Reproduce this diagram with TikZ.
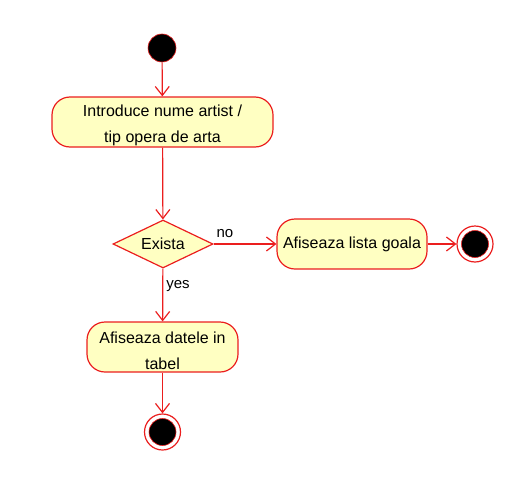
\documentclass[tikz,border=0pt]{standalone}
\usepackage{fontspec}
\setmainfont{Liberation Sans}
\usetikzlibrary{arrows.meta,shapes.geometric}
\definecolor{umlred}{RGB}{235,30,30}
\definecolor{umlfill}{RGB}{255,255,194}
\tikzset{
  actbox/.style={draw=umlred,fill=umlfill,line width=1.2pt,rounded corners=18pt,minimum height=50pt,align=center,font=\fontsize{16}{26}\selectfont,inner sep=0pt},
  decbox/.style={draw=umlred,fill=umlfill,line width=1.2pt,diamond,aspect=2.08,minimum width=100pt,minimum height=48pt,inner sep=0pt,font=\fontsize{16}{19}\selectfont},
  initnode/.style={circle,fill=black,draw=umlred,line width=0.6pt,minimum size=28pt,inner sep=0pt},
  flow/.style={draw=umlred,line width=1.2pt,-{Straight Barb[length=9pt,width=14pt]}},
  lbl/.style={font=\fontsize{15}{18}\selectfont,inner sep=0pt}
}
\begin{document}
\begin{tikzpicture}[x=1pt,y=-1pt]
\useasboundingbox (0,0) rectangle (518,495);
\node[initnode] (start) at (162,48) {};
\node[actbox,minimum width=221pt] (a1) at (162.5,122) {\rule{0pt}{19pt}Introduce nume artist /\\tip opera de arta};
\node[decbox] (d) at (163,244) {Exista};
\node[actbox,minimum width=150pt] (a2) at (352,244) {Afiseaza lista goala};
\node[actbox,minimum width=151pt] (a3) at (162.5,347) {\rule{0pt}{19pt}Afiseaza datele in\\tabel};
% final nodes
\node[circle,draw=umlred,fill=white,line width=1.2pt,minimum size=36pt,inner sep=0pt] (f1) at (475,244) {};
\node[circle,draw=umlred,fill=black,line width=0.6pt,minimum size=27pt,inner sep=0pt] (f1i) at (475,244) {};
\node[circle,draw=umlred,fill=white,line width=1.2pt,minimum size=36pt,inner sep=0pt] (f2) at (162.5,432) {};
\node[circle,draw=umlred,fill=black,line width=0.6pt,minimum size=27pt,inner sep=0pt] (f2i) at (162.5,432) {};
\draw[flow] (start) -- (a1);
\draw[flow] (a1) -- (d);
\draw[flow] (d) -- node[lbl,pos=0.18,above=6pt] {no} (a2);
\draw[flow] (d) -- node[lbl,pos=0.33,right=3pt] {yes} (a3);
\draw[flow] (a2) -- (f1);
\draw[flow] (a3) -- (f2);
\end{tikzpicture}
\end{document}
